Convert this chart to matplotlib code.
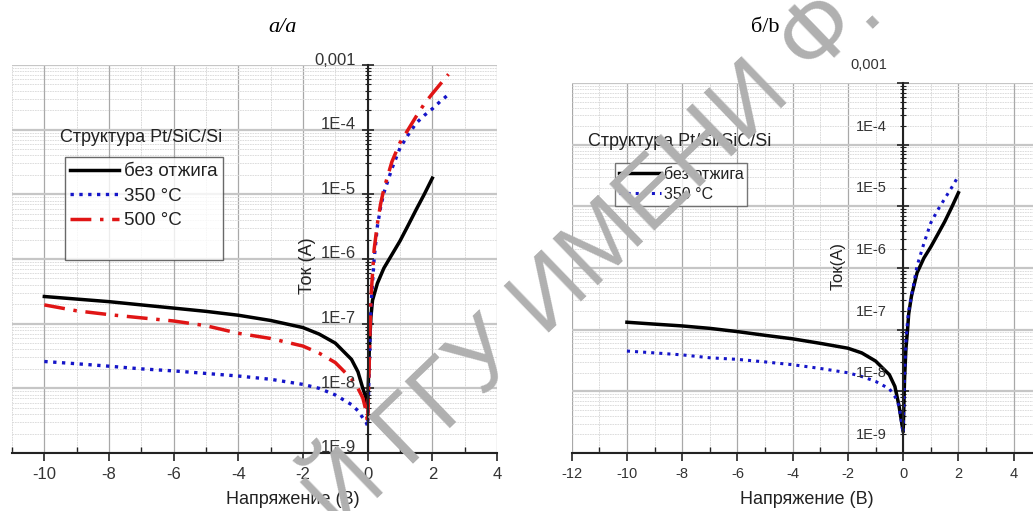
import matplotlib
matplotlib.use("Agg")
import matplotlib.pyplot as plt
from matplotlib.ticker import LogLocator, MultipleLocator, NullFormatter
from matplotlib.transforms import ScaledTranslation

plt.rcParams['font.family'] = ['Liberation Sans', 'DejaVu Sans']
plt.rcParams['axes.unicode_minus'] = False

# ---- panel a: Pt/SiC/Si ----
v_a_black = [-10, -9, -8, -7, -6, -5, -4, -3, -2, -1.5, -1, -0.5, -0.3, -0.15, -0.05, 0,
             0.05, 0.1, 0.15, 0.3, 0.5, 0.75, 1.0, 1.25, 1.5, 1.75, 2.0]
i_a_black = [2.63e-7, 2.40e-7, 2.19e-7, 1.95e-7, 1.74e-7, 1.55e-7, 1.35e-7, 1.12e-7, 8.7e-8, 6.9e-8,
             5.0e-8, 2.8e-8, 1.8e-8, 1.0e-8, 7.1e-9, 5.2e-9,
             4.0e-8, 1.26e-7, 2.3e-7, 4.2e-7, 7.2e-7, 1.17e-6, 1.9e-6, 3.3e-6, 5.8e-6, 1.0e-5, 1.78e-5]

v_a_ann = [-10, -9, -8, -7, -6, -5, -4, -3, -2, -1.5, -1, -0.5, -0.3, -0.15, -0.05, 0,
           0.1, 0.2, 0.3, 0.4, 0.5, 0.75, 1.0, 1.25, 1.5, 1.75, 2.0, 2.25, 2.5]
i_a_350 = [2.6e-8, 2.4e-8, 2.2e-8, 2.0e-8, 1.86e-8, 1.7e-8, 1.55e-8, 1.38e-8, 1.15e-8, 1.0e-8,
           7.9e-9, 5.6e-9, 4.5e-9, 3.5e-9, 3.0e-9, 2.6e-9,
           1.8e-7, 1.0e-6, 3.2e-6, 6.3e-6, 1.05e-5, 2.5e-5, 5.2e-5, 8.3e-5, 1.26e-4, 1.66e-4,
           2.1e-4, 2.75e-4, 3.5e-4]
i_a_500 = [1.95e-7, 1.58e-7, 1.38e-7, 1.23e-7, 1.10e-7, 9.3e-8, 7.1e-8, 5.9e-8, 4.5e-8, 3.5e-8,
           2.5e-8, 1.4e-8, 1.0e-8, 7.1e-9, 4.5e-9, 2.8e-9,
           2.5e-7, 1.4e-6, 3.5e-6, 7.1e-6, 1.2e-5, 3.2e-5, 6.3e-5, 1.0e-4, 1.6e-4, 2.5e-4,
           3.6e-4, 5.1e-4, 7.2e-4]

# ---- panel b: Pt/Si/SiC/Si ----
v_b = [-10, -9, -8, -7, -6, -5, -4, -3, -2, -1.5, -1, -0.5, -0.3, -0.15, 0,
       0.05, 0.1, 0.15, 0.2, 0.3, 0.5, 0.75, 1.0, 1.25, 1.5, 1.75, 2.0]
i_b_black = [1.32e-7, 1.23e-7, 1.15e-7, 1.05e-7, 9.3e-8, 8.1e-8, 7.1e-8, 6.0e-8, 5.0e-8, 4.2e-8,
             3.1e-8, 1.86e-8, 1.2e-8, 5.8e-9, 2.2e-9,
             1.6e-8, 5.0e-8, 8.9e-8, 1.8e-7, 3.5e-7, 8.3e-7, 1.45e-6, 2.2e-6, 3.5e-6, 5.6e-6,
             9.5e-6, 1.66e-5]
i_b_350 = [4.5e-8, 4.2e-8, 3.9e-8, 3.5e-8, 3.3e-8, 3.0e-8, 2.7e-8, 2.35e-8, 2.0e-8, 1.74e-8,
           1.45e-8, 1.1e-8, 8.3e-9, 5.8e-9, 2.1e-9,
           2.0e-8, 6.3e-8, 1.26e-7, 2.0e-7, 3.5e-7, 1.07e-6, 2.5e-6, 5.4e-6, 8.7e-6, 1.32e-5,
           2.0e-5, 3.1e-5]

decades = [1e-3, 1e-4, 1e-5, 1e-6, 1e-7, 1e-8, 1e-9]
decade_labels = ["0,001", "1E-4", "1E-5", "1E-6", "1E-7", "1E-8", "1E-9"]

fig = plt.figure(figsize=(10.33, 5.11), dpi=100)
W, H = 1033, 511
ax1 = fig.add_axes([12 / W, 58 / H, 485 / W, 388 / H])
ax2 = fig.add_axes([571.7 / W, 58 / H, 461.3 / W, 370 / H])


def style(ax, xmin, xmax, lab_dx, lab_dy, lab_fs, xt_fs):
    ax.set_yscale('log')
    ax.set_ylim(1e-9, 1e-3)
    ax.set_xlim(xmin, xmax)
    for s in ('top', 'right'):
        ax.spines[s].set_visible(False)
    ax.spines['left'].set_position(('data', 0))
    for s in ('left', 'bottom'):
        ax.spines[s].set_color('#222222')
        ax.spines[s].set_linewidth(1.5)
    ax.xaxis.set_major_locator(MultipleLocator(2))
    ax.xaxis.set_minor_locator(MultipleLocator(1))
    ax.yaxis.set_major_locator(LogLocator(base=10, numticks=20))
    ax.yaxis.set_minor_locator(LogLocator(base=10, subs=range(2, 10), numticks=20))
    ax.yaxis.set_minor_formatter(NullFormatter())
    ax.tick_params(axis='y', which='major', direction='inout', length=8, width=1.2,
                   color='#222222', labelleft=False)
    ax.tick_params(axis='y', which='minor', direction='inout', length=4, width=0.8,
                   color='#222222')
    ax.tick_params(axis='x', which='major', direction='out', length=6, width=1.2,
                   color='#222222', labelsize=xt_fs, labelcolor='#333333', pad=4)
    ax.tick_params(axis='x', which='minor', direction='in', length=4, width=1.0,
                   color='#222222')
    ax.xaxis.grid(True, which='major', color='#a8a8a8', lw=0.9)
    ax.xaxis.grid(True, which='minor', color='#d4d4d4', lw=0.6, ls=(0, (2, 1)))
    ax.yaxis.grid(True, which='major', color='#c6c6c6', lw=1.6)
    ax.yaxis.grid(True, which='minor', color='#d8d8d8', lw=0.6, ls=(0, (2, 1)))
    ax.set_axisbelow(True)
    off = ax.transData + ScaledTranslation(-lab_dx / 100, lab_dy / 100, fig.dpi_scale_trans)
    for v, lab in zip(decades, decade_labels):
        ax.text(0, v, lab, transform=off, ha='right', va='center', fontsize=lab_fs,
                color='#333333', zorder=5)


style(ax1, -11, 4, 12, 5, 12, 12)
style(ax2, -12, 4.7, 16, 18, 10.5, 10.5)

red_dash = (0, (6, 2.5, 1, 2.5))

ax1.plot(v_a_black, i_a_black, color='black', lw=2.5, label='без отжига')
ax1.plot(v_a_ann, i_a_350, color='#1515c8', lw=2.4, ls=':', label='350 °C')
ax1.plot(v_a_ann, i_a_500, color='#e01515', lw=2.5, ls=red_dash, label='500 °C')
ax1.plot([], [], ' ', label=' ')
leg1 = ax1.legend(loc='upper left', bbox_to_anchor=(0.109, 0.762), fontsize=13.5,
                  frameon=True, fancybox=False, handlelength=2.6, handletextpad=0.25,
                  labelspacing=0.4, borderpad=0.3, borderaxespad=0)
leg1.get_frame().set_edgecolor('#444444')
leg1.get_frame().set_linewidth(1.0)
for t in leg1.get_texts():
    t.set_color('#222222')

ax2.plot(v_b, i_b_black, color='black', lw=2.5, label='без отжига')
ax2.plot(v_b, i_b_350, color='#1515c8', lw=2.2, ls=':', label='350 °C')
leg2 = ax2.legend(loc='upper left', bbox_to_anchor=((615 - 571.7) / 461.3, 1 - (163 - 83) / 370),
                  fontsize=11.5, frameon=True, fancybox=False, handlelength=2.6,
                  handletextpad=0.2, labelspacing=0.3, borderpad=0.25, borderaxespad=0)
leg2.get_frame().set_edgecolor('#555555')
leg2.get_frame().set_linewidth(1.0)
for t in leg2.get_texts():
    t.set_color('#222222')

# structure captions, axis labels and panel titles
fig.text(60 / W, 1 - 137 / H, 'Структура Pt/SiC/Si', fontsize=13, color='#222222',
         ha='left', va='center')
fig.text(588 / W, 1 - 142 / H, 'Структура Pt/Si/SiC/Si', fontsize=13, color='#222222',
         ha='left', va='center')
fig.text(293 / W, 1 - 500 / H, 'Напряжение (В)', fontsize=13, color='#222222',
         ha='center', va='center')
fig.text(807 / W, 1 - 500 / H, 'Напряжение (В)', fontsize=13, color='#222222',
         ha='center', va='center')
fig.text(307 / W, 1 - 266 / H, 'Ток (А)', fontsize=13, color='#222222', rotation=90,
         ha='center', va='center')
fig.text(838 / W, 1 - 266 / H, 'Ток(А)', fontsize=12, color='#222222', rotation=90,
         ha='center', va='center')
fig.text(283 / W, 1 - 27 / H, 'а/a', fontsize=16, family='Liberation Serif',
         style='italic', ha='center', va='center')
fig.text(765 / W, 1 - 27 / H, 'б/b', fontsize=16, family='Liberation Serif',
         ha='center', va='center')

# repository watermark (only the part that falls on the page)
wm = dict(fontsize=68, color='#b0b0b0', rotation=44, rotation_mode='anchor',
          va='baseline', zorder=10)
fig.text(864 / W, 1 - 29 / H, 'Й ГГУ ИМЕНИ Ф', ha='right', **wm)
fig.text(864 / W, 1 - 29 / H, '.', ha='left', **wm)

fig.savefig('out.png', dpi=100)
